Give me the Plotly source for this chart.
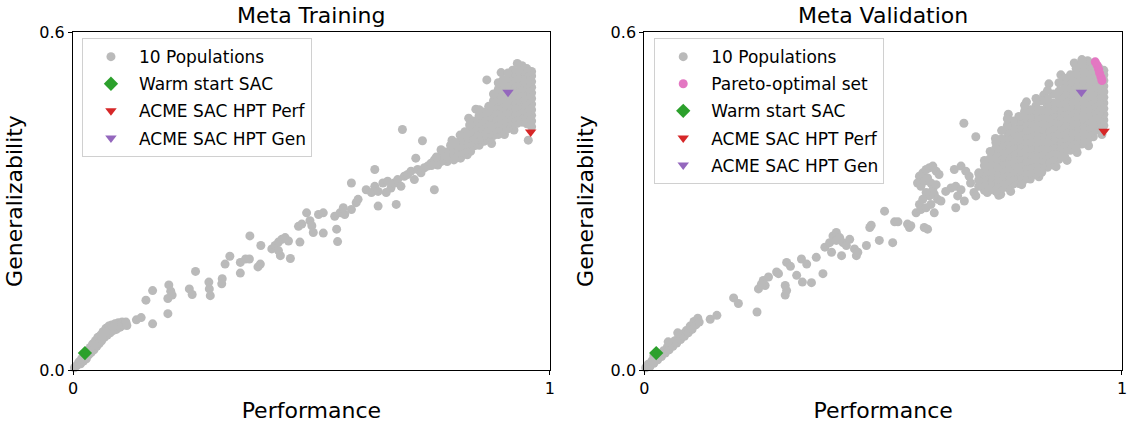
import plotly.graph_objects as go

# ---------------- Meta Training (left) ----------------
train_low = [(0.003,0.004),(0.008,0.008),(0.012,0.014),(0.016,0.011),(0.018,0.02),(0.022,0.016),
    (0.025,0.026),(0.028,0.02),(0.03,0.034),(0.033,0.027),(0.036,0.04),(0.038,0.031),(0.041,0.046),
    (0.044,0.036),(0.047,0.052),(0.05,0.042),(0.052,0.058),(0.055,0.047),(0.058,0.062),(0.06,0.052),
    (0.063,0.068),(0.066,0.058),(0.069,0.074),(0.072,0.062),(0.075,0.078),(0.078,0.066),(0.081,0.08),
    (0.084,0.07),(0.088,0.082),(0.091,0.072),(0.095,0.084),(0.099,0.076),(0.103,0.085),(0.107,0.08),
    (0.111,0.085),(0.113,0.079),(0.06,0.06),(0.045,0.045),(0.03,0.028),(0.07,0.068),(0.085,0.077)]

train_mid = [(0.133,0.089),(0.143,0.093),(0.167,0.082),(0.153,0.124),(0.167,0.141),(0.199,0.100),
    (0.201,0.151),(0.205,0.140),(0.199,0.127),(0.208,0.133),(0.244,0.144),(0.25,0.134),(0.257,0.175),
    (0.285,0.156),(0.286,0.144),(0.288,0.132),(0.313,0.162),(0.312,0.153),(0.319,0.188),(0.329,0.202),
    (0.351,0.191),(0.362,0.197),(0.370,0.197),(0.351,0.172),(0.388,0.183),(0.393,0.188),(0.371,0.238),
    (0.394,0.221),(0.417,0.215),(0.424,0.221),(0.431,0.227),(0.438,0.232),(0.445,0.235),(0.452,0.229),
    (0.435,0.203),(0.456,0.198),(0.431,0.212),(0.476,0.227),(0.473,0.255),(0.480,0.259),(0.490,0.279),
    (0.497,0.265),(0.501,0.256),(0.504,0.244),(0.515,0.276),(0.525,0.279),(0.525,0.243),(0.553,0.250),
    (0.555,0.228),(0.549,0.273),(0.560,0.279),(0.570,0.276),(0.567,0.288),(0.584,0.285),(0.594,0.297),
    (0.598,0.303),(0.584,0.332),(0.615,0.320),(0.626,0.315),(0.633,0.326),(0.640,0.317),(0.650,0.332),
    (0.657,0.315),(0.660,0.335),(0.667,0.323),(0.674,0.332),(0.681,0.338),(0.688,0.326),(0.695,0.344),
    (0.702,0.347),(0.709,0.353),(0.716,0.338),(0.723,0.356),(0.730,0.350),(0.737,0.359),(0.744,0.362),
    (0.751,0.367),(0.758,0.373),(0.765,0.364),(0.772,0.376),(0.778,0.379),(0.785,0.370),(0.792,0.382),
    (0.799,0.373),(0.806,0.385),(0.813,0.376),(0.820,0.388),(0.827,0.382),(0.834,0.388),
    (0.633,0.356),(0.640,0.291),(0.678,0.294),(0.719,0.376),(0.758,0.320),(0.691,0.427),(0.733,0.407),
    (0.955,0.408),(0.868,0.515),(0.925,0.426),(0.878,0.402),(0.898,0.528),(0.845,0.463),(0.795,0.408),
    (0.905,0.418),(0.83,0.447)]

train_top_cols = [
    (0.962,[0.432,0.442,0.452,0.462,0.472,0.482,0.492,0.502,0.512,0.522,0.53]),
    (0.952,[0.437,0.447,0.457,0.467,0.477,0.487,0.497,0.507,0.517,0.527,0.535]),
    (0.942,[0.44,0.45,0.46,0.47,0.48,0.49,0.50,0.51,0.52,0.53,0.54]),
    (0.932,[0.438,0.448,0.458,0.468,0.478,0.488,0.498,0.508,0.518,0.53,0.544]),
    (0.922,[0.436,0.446,0.456,0.466,0.476,0.486,0.496,0.506,0.516,0.526,0.532]),
    (0.912,[0.428,0.438,0.448,0.458,0.468,0.478,0.488,0.498,0.508,0.518,0.527]),
    (0.902,[0.426,0.436,0.446,0.456,0.466,0.476,0.486,0.496,0.506,0.515]),
    (0.892,[0.418,0.428,0.438,0.448,0.458,0.468,0.478,0.488,0.498,0.51]),
    (0.882,[0.416,0.426,0.436,0.446,0.456,0.466,0.478,0.49]),
    (0.872,[0.408,0.418,0.428,0.438,0.448,0.46,0.468]),
    (0.862,[0.406,0.416,0.426,0.436,0.446,0.458]),
    (0.852,[0.399,0.409,0.419,0.429,0.439,0.452,0.462]),
    (0.842,[0.398,0.408,0.418,0.428,0.442]),
    (0.832,[0.392,0.402,0.412,0.422,0.435]),
    (0.822,[0.391,0.401,0.411,0.423]),
    (0.812,[0.386,0.396,0.406,0.417]),
    (0.802,[0.384,0.394,0.404]),
    (0.792,[0.379,0.389,0.399]),
    (0.782,[0.376,0.387]),
    (0.772,[0.37,0.381,0.391]),
    (0.762,[0.368,0.378]),
    (0.752,[0.363]),
]

train_warm = (0.025, 0.030)
train_perf = (0.960, 0.4225)
train_gen = (0.9125, 0.493)

# ---------------- Meta Validation (right) ----------------
val_low = [(0.003,0.004),(0.008,0.01),(0.012,0.006),(0.016,0.016),(0.02,0.012),(0.024,0.022),
    (0.028,0.018),(0.032,0.028),(0.036,0.024),(0.04,0.034),(0.044,0.03),(0.048,0.04),(0.052,0.036),
    (0.056,0.046),(0.06,0.042),(0.064,0.052),(0.068,0.048),(0.072,0.058),(0.076,0.054),(0.08,0.064),
    (0.084,0.06),(0.088,0.07),(0.092,0.066),(0.096,0.078),(0.1,0.072),(0.104,0.086),(0.108,0.08),
    (0.112,0.092),(0.115,0.085),(0.05,0.05),(0.07,0.066),(0.02,0.025)]

val_mid = [(0.138,0.090),(0.152,0.097),(0.187,0.128),(0.197,0.118),(0.236,0.103),(0.239,0.144),
    (0.249,0.159),(0.260,0.165),(0.253,0.150),(0.281,0.171),(0.277,0.174),(0.245,0.152),(0.295,0.150),
    (0.295,0.133),(0.298,0.141),(0.298,0.191),(0.306,0.184),(0.319,0.168),(0.331,0.156),(0.350,0.155),
    (0.329,0.197),(0.340,0.188),(0.360,0.200),(0.374,0.171),(0.378,0.218),(0.388,0.226),(0.395,0.238),
    (0.402,0.244),(0.409,0.235),(0.416,0.226),(0.392,0.209),(0.413,0.203),(0.423,0.221),(0.430,0.232),
    (0.402,0.230),(0.440,0.215),(0.444,0.203),(0.447,0.209),(0.465,0.221),(0.472,0.253),(0.475,0.257),
    (0.492,0.230),(0.503,0.282),(0.520,0.226),(0.524,0.263),(0.531,0.263),(0.551,0.259),(0.555,0.253),
    (0.558,0.256),(0.586,0.253),(0.593,0.250),
    (0.576,0.344),(0.583,0.350),(0.590,0.356),(0.597,0.359),(0.604,0.362),(0.611,0.353),(0.617,0.347),
    (0.572,0.332),(0.579,0.326),(0.586,0.335),(0.593,0.341),(0.600,0.332),(0.604,0.320),(0.607,0.312),
    (0.597,0.309),(0.590,0.315),(0.583,0.303),(0.576,0.294),(0.569,0.279),(0.579,0.285),(0.590,0.288),
    (0.600,0.294),(0.607,0.279),(0.614,0.303),(0.621,0.300),(0.611,0.329),
    (0.631,0.317),(0.642,0.323),(0.652,0.326),(0.663,0.320),(0.656,0.309),(0.670,0.300),(0.652,0.288),
    (0.649,0.356),(0.663,0.362),(0.673,0.353),(0.680,0.344),(0.683,0.332),(0.690,0.315),(0.694,0.309),
    (0.701,0.347),(0.708,0.335),(0.715,0.326),(0.718,0.315),(0.722,0.341),(0.725,0.359),(0.729,0.332),
    (0.736,0.320),(0.742,0.338),(0.746,0.312),(0.749,0.332),(0.756,0.350),(0.763,0.338),(0.767,0.317),
    (0.770,0.356),(0.777,0.362),(0.784,0.347),(0.791,0.367),(0.794,0.341),(0.798,0.356),(0.805,0.373),
    (0.812,0.364),(0.815,0.347),(0.819,0.379),(0.826,0.367),(0.829,0.356),(0.833,0.382),(0.840,0.373),
    (0.847,0.385),(0.854,0.376),(0.722,0.373),(0.736,0.379),(0.729,0.385),(0.742,0.388),(0.756,0.373),
    (0.715,0.367),
    (0.669,0.438),(0.694,0.414),(0.735,0.411),(0.847,0.508),(0.836,0.488),
    (0.872,0.524),(0.80,0.476),(0.762,0.454),(0.906,0.386),(0.862,0.361),(0.79,0.329),(0.742,0.31),
    (0.93,0.398),(0.958,0.418),(0.885,0.372),(0.826,0.343),(0.90,0.545)]

val_top_cols = [
    (0.962,[0.434,0.444,0.454,0.464,0.474,0.484,0.494,0.504,0.514,0.524,0.532]),
    (0.952,[0.426,0.436,0.446,0.456,0.466,0.476,0.486,0.496,0.506,0.516,0.526,0.536]),
    (0.940,[0.414,0.425,0.436,0.447,0.458,0.469,0.480,0.491,0.502,0.513,0.524,0.535,0.545]),
    (0.928,[0.408,0.419,0.43,0.441,0.452,0.463,0.474,0.485,0.496,0.507,0.518,0.529,0.54,0.549]),
    (0.916,[0.401,0.412,0.423,0.434,0.445,0.456,0.467,0.478,0.489,0.50,0.511,0.522,0.533,0.544,0.551]),
    (0.904,[0.394,0.405,0.416,0.427,0.438,0.449,0.46,0.471,0.482,0.493,0.504,0.515,0.526,0.535]),
    (0.892,[0.39,0.401,0.412,0.423,0.434,0.445,0.456,0.467,0.478,0.489,0.50,0.511,0.524]),
    (0.880,[0.379,0.39,0.401,0.412,0.423,0.434,0.445,0.456,0.467,0.478,0.489,0.50,0.511,0.518]),
    (0.868,[0.374,0.385,0.396,0.407,0.418,0.429,0.44,0.451,0.462,0.473,0.484,0.495,0.51]),
    (0.856,[0.364,0.375,0.386,0.397,0.408,0.419,0.43,0.441,0.452,0.463,0.474,0.49]),
    (0.844,[0.36,0.371,0.382,0.393,0.404,0.415,0.426,0.437,0.448,0.459,0.47,0.481,0.496]),
    (0.832,[0.351,0.362,0.373,0.384,0.395,0.406,0.417,0.428,0.439,0.45,0.461,0.478]),
    (0.820,[0.348,0.359,0.37,0.381,0.392,0.403,0.414,0.425,0.436,0.447,0.458,0.469,0.482]),
    (0.808,[0.339,0.35,0.361,0.372,0.383,0.394,0.405,0.416,0.427,0.438,0.449,0.462]),
    (0.796,[0.338,0.349,0.36,0.371,0.382,0.393,0.404,0.415,0.426,0.437,0.448,0.459,0.47]),
    (0.784,[0.331,0.342,0.353,0.364,0.375,0.386,0.397,0.408,0.419,0.43,0.441,0.45]),
    (0.772,[0.33,0.341,0.352,0.363,0.374,0.385,0.396,0.407,0.418,0.429,0.442]),
    (0.760,[0.324,0.335,0.346,0.357,0.368,0.379,0.39,0.401,0.412,0.423,0.434,0.446]),
    (0.748,[0.322,0.333,0.344,0.355,0.366,0.377,0.388,0.399,0.41,0.425]),
    (0.736,[0.317,0.328,0.339,0.35,0.361,0.372,0.383,0.394,0.404]),
    (0.724,[0.32,0.331,0.342,0.353,0.364,0.375,0.388]),
    (0.712,[0.319,0.33,0.341,0.352,0.363,0.372]),
    (0.700,[0.326,0.337,0.35]),
]

val_pareto = [(0.944,0.547),(0.948,0.541),(0.951,0.534),(0.953,0.527),(0.956,0.520),(0.958,0.514)]
val_warm = (0.025, 0.030)
val_perf = (0.9625, 0.424)
val_gen = (0.915, 0.493)

titles = ["Meta Training", "Meta Validation"]
legend_labels = ["10 Populations", "Pareto-optimal set", "Warm start SAC",
                 "ACME SAC HPT Perf", "ACME SAC HPT Gen"]

GRAY = "#bababa"
FONT = "DejaVu Sans"


def flatten(pairs, cols):
    xs = [p[0] for p in pairs]
    ys = [p[1] for p in pairs]
    for cx, gl in cols:
        for g in gl:
            xs.append(cx)
            ys.append(g)
    return xs, ys


fig = go.Figure()

panels = [
    dict(xa="x", ya="y", leg="legend", low=train_low, mid=train_mid, cols=train_top_cols,
         pareto=None, warm=train_warm, perf=train_perf, gen=train_gen),
    dict(xa="x2", ya="y2", leg="legend2", low=val_low, mid=val_mid, cols=val_top_cols,
         pareto=val_pareto, warm=val_warm, perf=val_perf, gen=val_gen),
]

for i, p in enumerate(panels):
    gx, gy = flatten(p["low"] + p["mid"], p["cols"])
    common = dict(xaxis=p["xa"], yaxis=p["ya"], legend=p["leg"], mode="markers", cliponaxis=False)
    fig.add_trace(go.Scatter(x=gx, y=gy, name=legend_labels[0], legendgroup=f"g0{i}",
                             marker=dict(color=GRAY, size=9, line=dict(width=0)), **common))
    if p["pareto"]:
        fig.add_trace(go.Scatter(x=[q[0] for q in p["pareto"]], y=[q[1] for q in p["pareto"]],
                                 name=legend_labels[1], legendgroup=f"g1{i}",
                                 marker=dict(color="#e377c2", size=9, line=dict(width=0)), **common))
    fig.add_trace(go.Scatter(x=[p["warm"][0]], y=[p["warm"][1]], name=legend_labels[2],
                             legendgroup=f"g2{i}",
                             marker=dict(color="#2ca02c", size=11, symbol="diamond", line=dict(width=0)),
                             **common))
    fig.add_trace(go.Scatter(x=[p["perf"][0]], y=[p["perf"][1]], name=legend_labels[3],
                             legendgroup=f"g3{i}",
                             marker=dict(color="#d62728", size=10, symbol="triangle-down", line=dict(width=0)),
                             **common))
    fig.add_trace(go.Scatter(x=[p["gen"][0]], y=[p["gen"][1]], name=legend_labels[4],
                             legendgroup=f"g4{i}",
                             marker=dict(color="#9467bd", size=10, symbol="triangle-down", line=dict(width=0)),
                             **common))

axis_common = dict(showline=True, linecolor="black", linewidth=1, mirror=True, ticks="outside",
                   ticklen=4, tickcolor="black", showgrid=False, zeroline=False,
                   tickfont=dict(family=FONT, size=16, color="black"))

leg_common = dict(font=dict(family=FONT, size=17, color="black"), bgcolor="rgba(255,255,255,0.8)",
                  bordercolor="#d0d0d0", borderwidth=1, xanchor="left", yanchor="top",
                  tracegroupgap=2, itemwidth=46)

dom1 = [0.0, 479 / 1054]
dom2 = [574 / 1054, 1.0]

fig.update_layout(
    width=1128, height=423, autosize=False,
    margin=dict(l=73, r=1, t=32, b=51),
    paper_bgcolor="white", plot_bgcolor="white",
    font=dict(family=FONT, color="black"),
    showlegend=True,
    xaxis=dict(domain=dom1, range=[0, 1], tickvals=[0, 1], ticktext=["0", "1"],
               title=dict(text="Performance", font=dict(family=FONT, size=22), standoff=8), **axis_common),
    yaxis=dict(domain=[0, 1], range=[0, 0.6], tickvals=[0, 0.6], ticktext=["0.0", "0.6"],
               title=dict(text="Generalizability", font=dict(family=FONT, size=22), standoff=10), **axis_common),
    xaxis2=dict(domain=dom2, range=[0, 1], tickvals=[0, 1], ticktext=["0", "1"], anchor="y2",
                title=dict(text="Performance", font=dict(family=FONT, size=22), standoff=8), **axis_common),
    yaxis2=dict(domain=[0, 1], range=[0, 0.6], tickvals=[0, 0.6], ticktext=["0.0", "0.6"], anchor="x2",
                title=dict(text="Generalizability", font=dict(family=FONT, size=22), standoff=10), **axis_common),
    legend=dict(x=9 / 1054, y=0.982, **leg_common),
    legend2=dict(x=584 / 1054, y=0.982, **leg_common),
    annotations=[
        dict(text=titles[0], x=(dom1[0] + dom1[1]) / 2, y=1, xref="paper", yref="paper",
             xanchor="center", yanchor="bottom", yshift=2, showarrow=False,
             font=dict(family=FONT, size=22, color="black")),
        dict(text=titles[1], x=(dom2[0] + dom2[1]) / 2, y=1, xref="paper", yref="paper",
             xanchor="center", yanchor="bottom", yshift=2, showarrow=False,
             font=dict(family=FONT, size=22, color="black")),
    ],
)

fig.write_html("out.html")
